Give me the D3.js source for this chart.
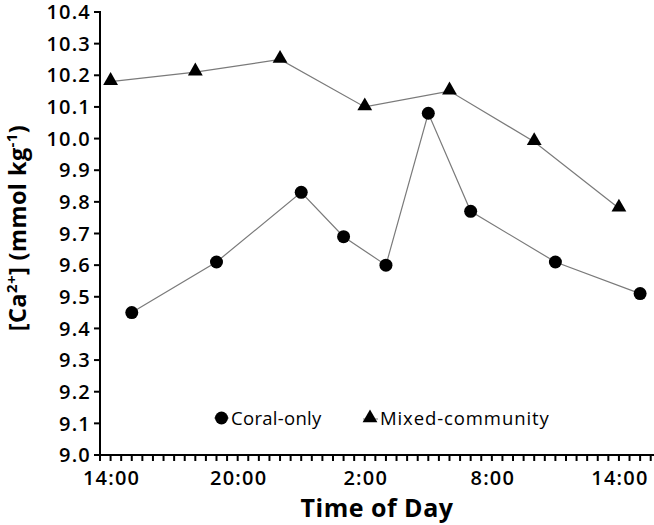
<!DOCTYPE html>
<html>
<head>
<meta charset="utf-8">
<script src="https://cdn.jsdelivr.net/npm/d3@7"></script>
<style>
  html, body { margin: 0; padding: 0; background: #fff; }
  svg { display: block; font-family: "Open Sans", sans-serif; }
</style>
</head>
<body>
<svg id="chart" width="654" height="525"></svg>
<script>
// Time of day in hours from start of day 1 (24+ = next day)
const coralHours = [15, 19, 23, 25, 27, 29, 31, 35, 39];
const coralCa = [9.45, 9.61, 9.83, 9.69, 9.60, 10.08, 9.77, 9.61, 9.51];
const mixedHours = [14, 18, 22, 26, 30, 34, 38];
const mixedCa = [10.18, 10.21, 10.25, 10.10, 10.15, 9.99, 9.78];
const xLabelHours = [14, 20, 26, 32, 38];
const xLabels = ["14:00", "20:00", "2:00", "8:00", "14:00"];
const yTicks = [9.0, 9.1, 9.2, 9.3, 9.4, 9.5, 9.6, 9.7, 9.8, 9.9, 10.0, 10.1, 10.2, 10.3, 10.4];
const seriesNames = ["Coral-only", "Mixed-community"];

const svg = d3.select("#chart");
const x = d3.scaleLinear().domain([13.5, 39.75]).range([100, 656]);
const y = d3.scaleLinear().domain([9.0, 10.4]).range([455, 12]);

// minor ticks every 30 min on x axis
const minorTicks = d3.range(13.5, 39.76, 0.5);
svg.append("g").selectAll("line").data(minorTicks).join("line")
  .attr("x1", d => x(d)).attr("x2", d => x(d))
  .attr("y1", y(9.0)).attr("y2", y(9.0) + 6)
  .attr("stroke", "#000").attr("stroke-width", 2);

// y ticks
svg.append("g").selectAll("line").data(yTicks).join("line")
  .attr("x1", 94).attr("x2", 100)
  .attr("y1", d => y(d)).attr("y2", d => y(d))
  .attr("stroke", "#000").attr("stroke-width", 2);

// axis lines
svg.append("line").attr("x1", 100).attr("x2", 100).attr("y1", y(10.4) - 1).attr("y2", y(9.0) + 1)
  .attr("stroke", "#000").attr("stroke-width", 2);
svg.append("line").attr("x1", 99).attr("x2", 656).attr("y1", y(9.0)).attr("y2", y(9.0))
  .attr("stroke", "#000").attr("stroke-width", 2);

// y tick labels
svg.append("g").selectAll("text").data(yTicks).join("text")
  .attr("x", 91).attr("y", d => y(d)).attr("dy", "0.36em")
  .attr("text-anchor", "end")
  .attr("font-size", 20).attr("font-weight", 600).attr("letter-spacing", "1.2px")
  .attr("fill", "#000")
  .text(d => d.toFixed(1));

// x tick labels
svg.append("g").selectAll("text").data(xLabelHours).join("text")
  .attr("x", d => x(d) + 1).attr("y", 485)
  .attr("text-anchor", "middle")
  .attr("font-size", 20).attr("font-weight", 600).attr("letter-spacing", "1.2px")
  .attr("fill", "#000")
  .text((d, i) => xLabels[i]);

// axis titles
svg.append("text").attr("x", 377).attr("y", 517)
  .attr("text-anchor", "middle").attr("font-size", 25).attr("font-weight", "bold")
  .attr("fill", "#000").attr("letter-spacing", "0.5px")
  .text("Time of Day");

const yt = svg.append("text")
  .attr("transform", "translate(26,228) rotate(-90)")
  .attr("text-anchor", "middle").attr("font-size", 23.5).attr("font-weight", "bold")
  .attr("fill", "#000").attr("letter-spacing", "0.4px");
yt.append("tspan").text("[Ca");
yt.append("tspan").attr("font-size", 15).attr("dy", -9).text("2+");
yt.append("tspan").attr("dy", 9).text("] (mmol kg");
yt.append("tspan").attr("font-size", 15).attr("dy", -9).text("-1");
yt.append("tspan").attr("dy", 9).text(")");

// lines
const line = d3.line().x(d => x(d[0])).y(d => y(d[1]));
const coralData = coralHours.map((h, i) => [h, coralCa[i]]);
const mixedData = mixedHours.map((h, i) => [h, mixedCa[i]]);
svg.append("path").datum(coralData).attr("d", line)
  .attr("fill", "none").attr("stroke", "#7a7a7a").attr("stroke-width", 1.2);
svg.append("path").datum(mixedData).attr("d", line)
  .attr("fill", "none").attr("stroke", "#7a7a7a").attr("stroke-width", 1.2);

// markers
svg.append("g").selectAll("circle").data(coralData).join("circle")
  .attr("cx", d => x(d[0])).attr("cy", d => y(d[1])).attr("r", 6.5)
  .attr("fill", "#000");
const tri = d3.symbol().type(d3.symbolTriangle).size(95);
svg.append("g").selectAll("path").data(mixedData).join("path")
  .attr("d", tri)
  .attr("transform", d => `translate(${x(d[0])},${y(d[1]) - 1})`)
  .attr("fill", "#000");

// legend
const lg = svg.append("g");
lg.append("line").attr("x1", 214).attr("x2", 229).attr("y1", 418).attr("y2", 418)
  .attr("stroke", "#7a7a7a").attr("stroke-width", 1);
lg.append("circle").attr("cx", 221.5).attr("cy", 418).attr("r", 6.5).attr("fill", "#000");
lg.append("text").attr("x", 231).attr("y", 425).attr("font-size", 18.5)
  .attr("fill", "#000").attr("letter-spacing", "0.3px").text(seriesNames[0]);
lg.append("line").attr("x1", 363).attr("x2", 378).attr("y1", 419).attr("y2", 419)
  .attr("stroke", "#7a7a7a").attr("stroke-width", 1);
lg.append("path").attr("d", tri).attr("transform", "translate(370,418)").attr("fill", "#000");
lg.append("text").attr("x", 380).attr("y", 425).attr("font-size", 18.5)
  .attr("fill", "#000").attr("letter-spacing", "0.9px").text(seriesNames[1]);
</script>
</body>
</html>
